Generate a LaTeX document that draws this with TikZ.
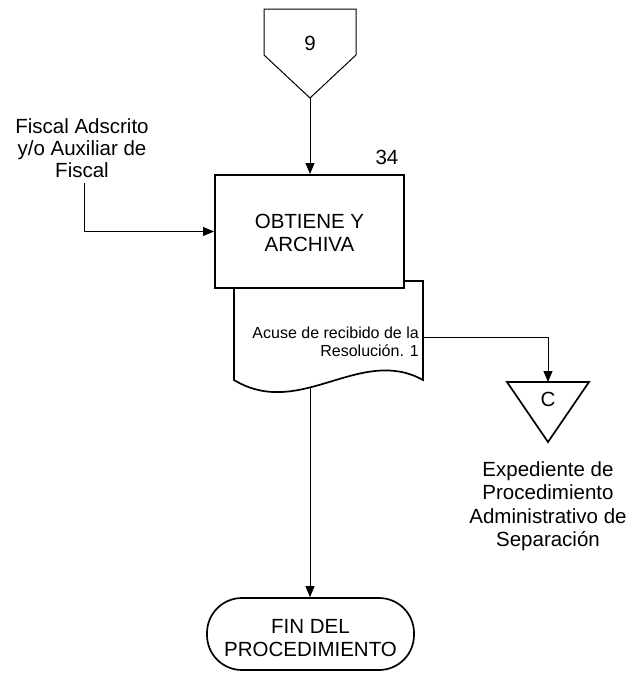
\documentclass[tikz,border=0pt]{standalone}
\usepackage{fontspec}
\setmainfont{Liberation Sans}
\usetikzlibrary{arrows.meta}
\begin{document}
\begin{tikzpicture}[x=1pt,y=-1pt,
  conn/.style={line width=0.9pt},
  arr/.style={conn,-{Triangle[length=11pt,width=9pt]}},
  shp/.style={line width=1.7pt},
  lbl/.style={font=\fontsize{20.5}{23.5}\selectfont, align=center, inner sep=0pt},
  small/.style={font=\fontsize{16}{18.5}\selectfont, align=right, inner sep=0pt}]
\useasboundingbox (0,0) rectangle (633,673);
% off-page connector 9
\draw[line width=1pt] (264,9) -- (356,9) -- (356,55) -- (310,98) -- (264,55) -- cycle;
\coordinate (p9tip) at (310,98);
\node[lbl] (n9) at (310,43) {9};
% document
\draw[shp, fill=white] (234,281) -- (423,281) -- (423,380)
  .. controls (360,345) and (300,420) .. (234,380) -- cycle;
\coordinate (docr) at (423,337);
\coordinate (docb) at (310,387);
\node[small, anchor=east] (doctxt) at (419,342) {Acuse de recibido de la\\Resolución. 1};
% process box
\node[draw, line width=2pt, fill=white, minimum width=189pt, minimum height=113pt] (box) at (309.5,231.5) {};
\node[lbl] (boxtxt) at (309.5,233) {OBTIENE Y\\ARCHIVA};
\node[lbl] (num) at (387,157) {34};
% pentagon to box
\draw[arr] (p9tip) -- (p9tip |- box.north);
% Fiscal label
\node[lbl, font=\fontsize{20.5}{22}\selectfont] (fiscal) at (82,148) {Fiscal Adscrito\\y/o Auxiliar de\\Fiscal};
\coordinate (fs) at (84,183);
\draw[arr] (fs) |- (box.west);
% triangle C
\draw[shp] (507,382) -- (589,382) -- (548,442) -- cycle;
\coordinate (ctop) at (548,382);
\node[lbl] (C) at (548,399) {C};
\draw[arr] (docr) -| (ctop);
\node[lbl] (exp) at (548,506) {Expediente de\\Procedimiento\\Administrativo de\\Separación};
% terminator
\node[draw, shp, rounded corners=35pt, minimum width=207pt, minimum height=72pt] (fin) at (310.5,634) {};
\node[lbl] (fintxt) at (310.5,638) {FIN DEL\\PROCEDIMIENTO};
\draw[arr] (docb) -- (docb |- fin.north);
\end{tikzpicture}
\end{document}
